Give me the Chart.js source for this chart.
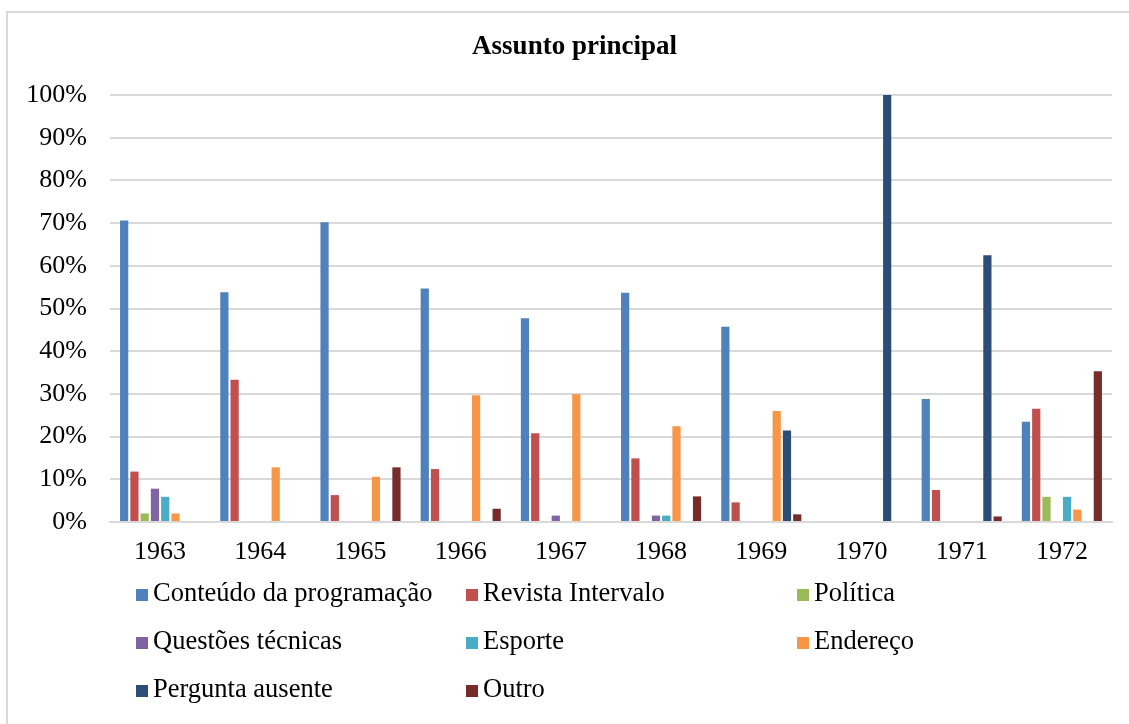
<!DOCTYPE html>
<html lang="pt">
<head>
<meta charset="utf-8">
<title>Assunto principal</title>
<script src="https://cdn.jsdelivr.net/npm/chart.js@4.4.1/dist/chart.umd.min.js"></script>
<style>
  html, body { margin: 0; padding: 0; background: #ffffff; overflow: hidden; }
  #wrap { position: relative; width: 1129px; height: 724px; }
</style>
</head>
<body>
<div id="wrap"><canvas id="chart" width="1129" height="724"></canvas></div>
<script>
// Years on the category axis
const years = ['1963', '1964', '1965', '1966', '1967', '1968', '1969', '1970', '1971', '1972'];

// Share of letters by main subject, in percent of each year
const conteudoProgramacao = [70.6, 53.8, 70.2, 54.7, 47.7, 53.7, 45.7, 0, 28.8, 23.5];
const revistaIntervalo    = [11.8, 33.3, 6.3, 12.4, 20.8, 14.9, 4.6, 0, 7.5, 26.5];
const politica            = [2.0, 0, 0, 0, 0, 0, 0, 0, 0, 5.9];
const questoesTecnicas    = [7.8, 0, 0, 0, 1.5, 1.5, 0, 0, 0, 0];
const esporte             = [5.9, 0, 0, 0, 0, 1.5, 0, 0, 0, 5.9];
const endereco            = [2.0, 12.8, 10.6, 29.7, 29.9, 22.4, 26.0, 0, 0, 2.9];
const perguntaAusente     = [0, 0, 0, 0, 0, 0, 21.4, 100, 62.5, 0];
const outro               = [0, 0, 12.8, 3.1, 0, 6.0, 1.8, 0, 1.3, 35.3];

// Value axis ticks
const yTicks = [0, 10, 20, 30, 40, 50, 60, 70, 80, 90, 100];

const seriesNames = ['Conteúdo da programação', 'Revista Intervalo', 'Política',
  'Questões técnicas', 'Esporte', 'Endereço', 'Pergunta ausente', 'Outro'];
const seriesValues = [conteudoProgramacao, revistaIntervalo, politica, questoesTecnicas,
  esporte, endereco, perguntaAusente, outro];
const seriesColors = ['#4F81BD', '#C0504D', '#9BBB59', '#8064A2',
  '#4BACC6', '#F79646', '#2C4D75', '#772C2A'];

const FONT = "'Liberation Serif', 'Times New Roman', serif";

// Light frame around the chart and white background
const framePlugin = {
  id: 'frame',
  beforeDraw(chart) {
    const ctx = chart.ctx;
    ctx.save();
    ctx.fillStyle = '#ffffff';
    ctx.fillRect(0, 0, chart.width, chart.height);
    ctx.strokeStyle = '#d9d9d9';
    ctx.lineWidth = 2;
    ctx.beginPath();
    ctx.moveTo(7, chart.height);
    ctx.lineTo(7, 12);
    ctx.lineTo(chart.width, 12);
    ctx.stroke();
    ctx.restore();
  }
};

// Let the wide "100%" label spill left of the value axis box without being clipped
const labelRoomPlugin = {
  id: 'labelRoom',
  afterLayout(chart) {
    const y = chart.scales.y;
    y.left = 0;
  }
};

// Three-column legend drawn under the axis
const gridLegendPlugin = {
  id: 'gridLegend',
  afterDraw(chart) {
    const ctx = chart.ctx;
    const colX = [136, 466, 797];
    const rowBase = [601, 649, 697];
    const box = 12;
    ctx.save();
    ctx.font = '26.5px ' + FONT;
    ctx.textBaseline = 'alphabetic';
    ctx.textAlign = 'left';
    chart.data.datasets.forEach((ds, i) => {
      const x = colX[i % 3];
      const y = rowBase[Math.floor(i / 3)];
      ctx.fillStyle = ds.backgroundColor;
      ctx.fillRect(x, y - box, box, box);
      ctx.fillStyle = '#000000';
      ctx.fillText(ds.label, x + 17, y);
    });
    ctx.restore();
  }
};

const datasets = seriesNames.map((name, i) => ({
  label: name,
  data: seriesValues[i],
  backgroundColor: seriesColors[i],
  borderWidth: 0,
  barPercentage: 0.8,
  categoryPercentage: 0.82
}));

new Chart(document.getElementById('chart'), {
  type: 'bar',
  data: { labels: years, datasets },
  plugins: [framePlugin, labelRoomPlugin, gridLegendPlugin],
  options: {
    responsive: false,
    devicePixelRatio: 1,
    animation: false,
    layout: { padding: { top: 12, left: 37, right: 17, bottom: 152 } },
    plugins: {
      legend: { display: false },
      tooltip: { enabled: false },
      title: {
        display: true,
        text: 'Assunto principal',
        color: '#000000',
        font: { family: FONT, size: 27, weight: 'bold', lineHeight: 1.2 },
        padding: { top: 19, bottom: 31.6 }
      }
    },
    scales: {
      x: {
        grid: { display: false, drawTicks: false },
        border: { display: true, color: '#d9d9d9', width: 2 },
        ticks: { color: '#000000', font: { family: FONT, size: 26 }, padding: 15, maxRotation: 0 },
        afterFit(scale) { scale.height = 50; }
      },
      y: {
        min: 0,
        max: 100,
        afterBuildTicks(scale) { scale.ticks = yTicks.map(v => ({ value: v })); },
        grid: { color: '#d9d9d9', lineWidth: 2, drawTicks: false },
        border: { display: false },
        ticks: {
          color: '#000000',
          font: { family: FONT, size: 26 },
          padding: 23,
          callback: v => v + '%'
        },
        afterFit(scale) { scale.width = 73; }
      }
    }
  }
});
</script>
</body>
</html>
